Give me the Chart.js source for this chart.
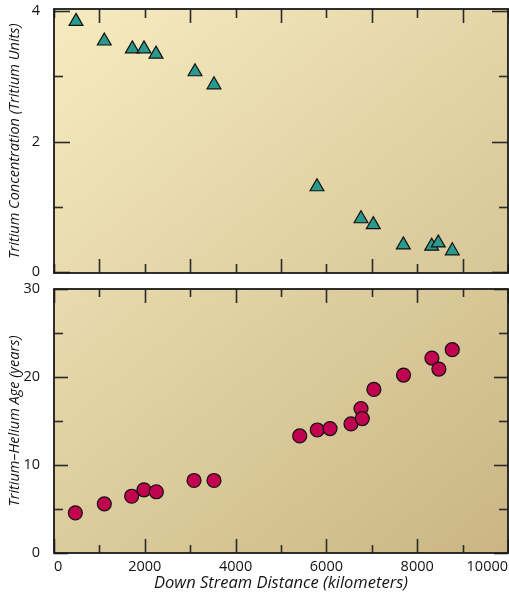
<!DOCTYPE html>
<html><head><meta charset="utf-8">
<script src="https://cdn.jsdelivr.net/npm/chart.js@4/dist/chart.umd.min.js"></script>
<style>
html,body{margin:0;padding:0;background:#fff;overflow:hidden;}
#c1{position:absolute;left:0;top:0;}
#c2{position:absolute;left:0;top:280px;}
</style></head><body>
<canvas id="c1" width="509" height="280"></canvas>
<canvas id="c2" width="509" height="314"></canvas>
<script>
// ---- data ----
const distTritium = [485, 1108, 1725, 1982, 2247, 3106, 3524, 5793, 6762, 7033, 7694, 8319, 8465, 8773];
const tritium     = [3.84, 3.54, 3.42, 3.42, 3.34, 3.07, 2.87, 1.31, 0.82, 0.73, 0.42, 0.40, 0.45, 0.33];
const distAge = [470, 1108, 1711, 1982, 2254, 3084, 3524, 5412, 5800, 6080, 6542, 6762, 6791, 7046, 7699, 8324, 8478, 8772];
const age     = [4.56, 5.59, 6.45, 7.18, 6.96, 8.24, 8.24, 13.3, 13.98, 14.14, 14.67, 16.42, 15.28, 18.59, 20.22, 22.15, 20.9, 23.1];
const xMajorTicks = [0, 2000, 4000, 6000, 8000, 10000];
const xMinorTicks = [1000, 3000, 5000, 7000, 9000];
const tritiumMajorTicks = [0, 2, 4];
const tritiumMinorTicks = [1, 3];
const ageMajorTicks = [0, 10, 20, 30];
const ageMinorTicks = [5, 15, 25];
const xTitle = 'Down Stream Distance (kilometers)';
const yTitleTop = 'Tritium Concentration (Tritium Units)';
const yTitleBottom = 'Tritium\u2013Helium Age (years)';

const FONT = "'Open Sans', 'DejaVu Sans', sans-serif";
const INK = '#141414';

function noPadY(s) { s.width = 54; s.paddingTop = 0; s.paddingBottom = 0; s.paddingLeft = 0; s.paddingRight = 0; }
function noPadX(h) { return s => { s.height = h; s.paddingLeft = 0; s.paddingRight = 0; s.paddingTop = 0; s.paddingBottom = 0; }; }

function framePlugin(cfg) {
  return {
    id: 'frame' + cfg.offsetY,
    beforeDraw(chart) {
      const {ctx, chartArea: a} = chart;
      const off = cfg.offsetY;
      const g = ctx.createLinearGradient(54, 9 - off, 508, 553 - off);
      g.addColorStop(0, '#f6ebc0');
      g.addColorStop(1, '#cab684');
      ctx.save();
      ctx.fillStyle = g;
      ctx.fillRect(a.left, a.top, a.right - a.left, a.bottom - a.top);
      ctx.restore();
    },
    beforeDatasetsDraw(chart) {
      const {ctx, chartArea: a, scales} = chart;
      const xs = scales.x, ys = scales.y;
      ctx.save();
      ctx.strokeStyle = '#2a2a2a';
      ctx.lineWidth = 1.6;
      const tick = (x1, y1, x2, y2) => { ctx.beginPath(); ctx.moveTo(x1, y1); ctx.lineTo(x2, y2); ctx.stroke(); };
      const xt = [[cfg.xA, cfg.xALen], [cfg.xB, cfg.xBLen]];
      xt.forEach(([vals, len]) => vals.forEach(v => {
        const px = Math.round(xs.getPixelForValue(v)) + 0.5;
        tick(px, a.top, px, a.top + len);
        tick(px, a.bottom, px, a.bottom - len);
      }));
      const yt = [[cfg.yMajor, cfg.yMajorLen], [cfg.yMinor, cfg.yMinorLen]];
      yt.forEach(([vals, len]) => vals.forEach(v => {
        const py = Math.round(ys.getPixelForValue(v)) + 0.5;
        tick(a.left, py, a.left + len, py);
        tick(a.right, py, a.right - len, py);
      }));
      ctx.lineWidth = 1.8;
      ctx.strokeStyle = '#1a1a1a';
      ctx.strokeRect(a.left, a.top, a.right - a.left, a.bottom - a.top);
      ctx.restore();
    }
  };
}

// ---- top chart: tritium concentration ----
new Chart(document.getElementById('c1'), {
  type: 'scatter',
  data: { datasets: [{
    data: distTritium.map((d, i) => ({x: d, y: tritium[i]})),
    pointStyle: 'triangle', pointRadius: 8, pointHoverRadius: 8,
    backgroundColor: '#2a9a8c', borderColor: '#111', borderWidth: 1.2
  }]},
  options: {
    responsive: false, animation: false,
    layout: { autoPadding: false, padding: {top: 9, right: 1, bottom: 7, left: 0} },
    plugins: { legend: {display: false}, tooltip: {enabled: false} },
    scales: {
      x: { type: 'linear', min: 0, max: 10000, display: false },
      y: {
        min: -0.01, max: 4.03,
        afterBuildTicks(s) { s.ticks = tritiumMajorTicks.map(v => ({value: v})); },
        afterFit: noPadY,
        grid: {display: false}, border: {display: false},
        ticks: { padding: 6, color: INK, font: {family: FONT, size: 14.5} },
        title: { display: true, text: yTitleTop, color: INK,
          font: {family: FONT, size: 14.5, style: 'italic'}, padding: {top: 6, bottom: 0} }
      }
    }
  },
  plugins: [framePlugin({offsetY: 0, xA: xMinorTicks, xALen: 14, xB: xMajorTicks, xBLen: 9,
    yMajor: tritiumMajorTicks, yMajorLen: 16, yMinor: tritiumMinorTicks, yMinorLen: 9})]
});

// ---- bottom chart: tritium-helium age ----
new Chart(document.getElementById('c2'), {
  type: 'scatter',
  data: { datasets: [{
    data: distAge.map((d, i) => ({x: d, y: age[i]})),
    pointStyle: 'circle', pointRadius: 7, pointHoverRadius: 7,
    backgroundColor: '#c0024f', borderColor: '#111', borderWidth: 1.2
  }]},
  options: {
    responsive: false, animation: false,
    layout: { autoPadding: false, padding: {top: 9, right: 1, bottom: 0, left: 0} },
    plugins: { legend: {display: false}, tooltip: {enabled: false} },
    scales: {
      x: {
        type: 'linear', min: 0, max: 10000,
        afterBuildTicks(s) { s.ticks = xMajorTicks.map(v => ({value: v})); },
        afterFit: noPadX(41),
        grid: {display: false}, border: {display: false},
        ticks: { align: 'inner', padding: -3, maxRotation: 0, color: INK,
          font: {family: FONT, size: 14.5}, callback: v => String(v) },
        title: { display: true, text: xTitle, color: INK,
          font: {family: FONT, size: 16.5, style: 'italic'}, padding: {top: 0, bottom: 1} }
      },
      y: {
        min: 0, max: 30,
        afterBuildTicks(s) { s.ticks = ageMajorTicks.map(v => ({value: v})); },
        afterFit: noPadY,
        grid: {display: false}, border: {display: false},
        ticks: { padding: 6, color: INK, font: {family: FONT, size: 14.5} },
        title: { display: true, text: yTitleBottom, color: INK,
          font: {family: FONT, size: 14.5, style: 'italic'}, padding: {top: 6, bottom: 0} }
      }
    }
  },
  plugins: [framePlugin({offsetY: 280, xA: xMajorTicks, xALen: 14, xB: xMinorTicks, xBLen: 8,
    yMajor: ageMajorTicks, yMajorLen: 14, yMinor: ageMinorTicks, yMinorLen: 9})]
});
</script>
</body></html>
